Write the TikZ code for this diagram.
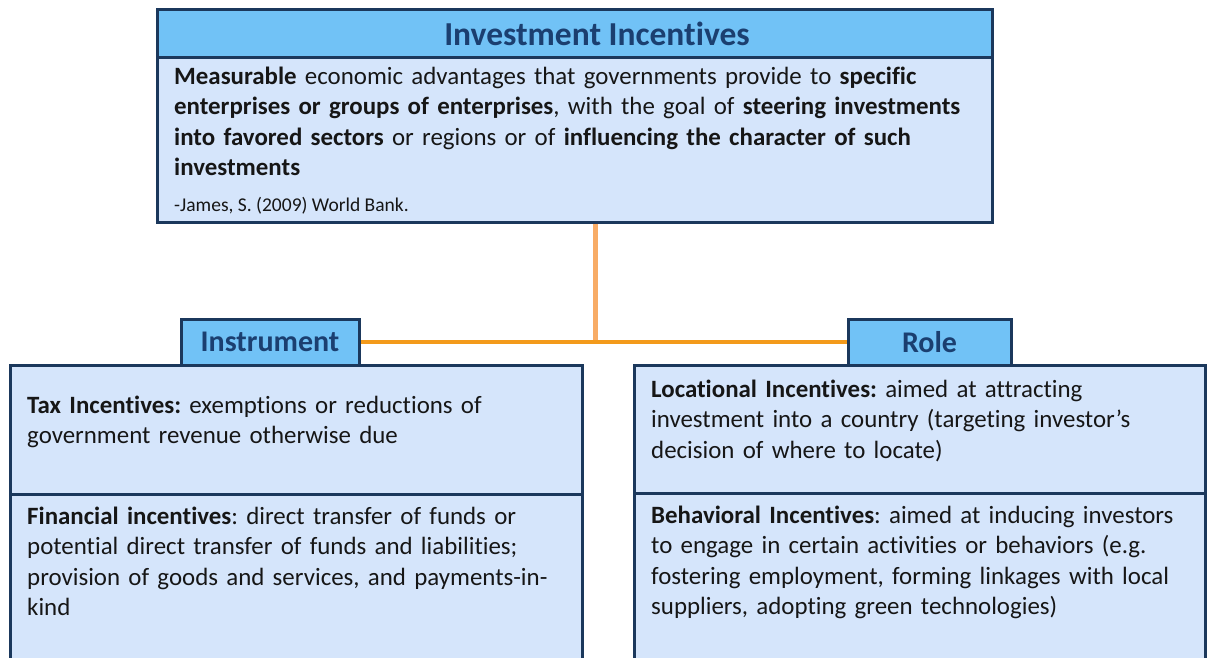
\documentclass[tikz,border=0pt]{standalone}
\usepackage{fontspec}
\setmainfont{Carlito}[Ligatures=NoCommon]
\usetikzlibrary{backgrounds}

\definecolor{headfill}{HTML}{71C2F6}
\definecolor{bodyfill}{HTML}{D5E5FB}
\definecolor{navy}{HTML}{1B385C}
\definecolor{titleblue}{HTML}{1B3F70}
\definecolor{inktext}{HTML}{161616}
\definecolor{linkorange}{HTML}{F39A1B}
\definecolor{stemorange}{HTML}{F8AC66}

% invisible strut that fixes the first baseline of a paragraph below its top
\newcommand{\firstline}{\rule{0pt}{20pt}}

\begin{document}
\frenchspacing
\begin{tikzpicture}[x=1pt,y=-1pt,
  panel/.style={draw=navy, line width=3pt, fill=bodyfill, inner sep=0pt,
                outer sep=0pt, anchor=north west},
  header/.style={draw=navy, line width=3pt, fill=headfill, inner sep=0pt,
                 outer sep=0pt, text=titleblue, font=\bfseries\fontsize{30}{36}\selectfont},
  para/.style={anchor=north west, inner sep=0pt, align=left, text=inktext,
               text width=#1, font=\fontsize{24.9}{30.5}\selectfont},
  hlink/.style={draw=linkorange, line width=4pt},
  vlink/.style={draw=stemorange, line width=5pt}]

\useasboundingbox (0,0) rectangle (1207,658);
\clip (0,0) rectangle (1207,658);

% top definition box
\node[header, anchor=north west, minimum width=835pt, minimum height=48pt] (title) at (157,10) {};
\node[anchor=base, inner sep=0pt, text=titleblue, font=\bfseries\fontsize{33.5}{40}\selectfont]
  (titletext) at (597,45.5) {Investment Incentives};
\node[panel, minimum width=835pt, minimum height=164pt] (def) at (157,58) {};
\node[para=810pt] (deftext) at (174,64) {\firstline\textbf{Measurable} economic advantages that governments provide to \textbf{specific}\\
\textbf{enterprises or groups of enterprises}, with the goal of \textbf{steering investments}\\
\textbf{into favored sectors} or regions or of \textbf{influencing the character of such}\\
\textbf{investments}};
\node[anchor=base west, inner sep=0pt, text=inktext, font=\fontsize{19.5}{23}\selectfont]
  (source) at (174,211) {-James, S. (2009) World Bank.};

% left column: instruments
\node[panel, minimum width=572pt, minimum height=129pt] (tax) at (10,365) {};
\node[panel, minimum width=572pt, minimum height=200pt] (fin) at (10,494) {};
\node[para=545pt] (taxtext) at (27,393) {\firstline\textbf{Tax Incentives:} exemptions or reductions of\\
government revenue otherwise due};
\node[para=545pt] (fintext) at (27,504) {\firstline\textbf{Financial incentives}: direct transfer of funds or\\
potential direct transfer of funds and liabilities;\\
provision of goods and services, and payments-in-\\
kind};

% right column: roles
\node[panel, minimum width=571pt, minimum height=128pt] (loc) at (634,365) {};
\node[panel, minimum width=571pt, minimum height=200pt] (beh) at (634,493) {};
\node[para=545pt] (loctext) at (651,377) {\firstline\textbf{Locational Incentives:} aimed at attracting\\
investment into a country (targeting investor’s\\
decision of where to locate)};
\node[para=545pt] (behtext) at (651,503) {\firstline\textbf{Behavioral Incentives}: aimed at inducing investors\\
to engage in certain activities or behaviors (e.g.\\
fostering employment, forming linkages with local\\
suppliers, adopting green technologies)};

% category tabs
\node[header, minimum width=178pt, minimum height=46pt] (inst) at (270,342) {Instrument};
\node[header, minimum width=163pt, minimum height=46pt] (role) at (929.5,342) {Role};

% connectors
\coordinate (junc) at (595,342);
\begin{pgfonlayer}{background}
  \draw[vlink] (junc |- def.south) -- (junc);
  \draw[hlink] (inst.east) -- (role.west);
\end{pgfonlayer}
\end{tikzpicture}
\end{document}
